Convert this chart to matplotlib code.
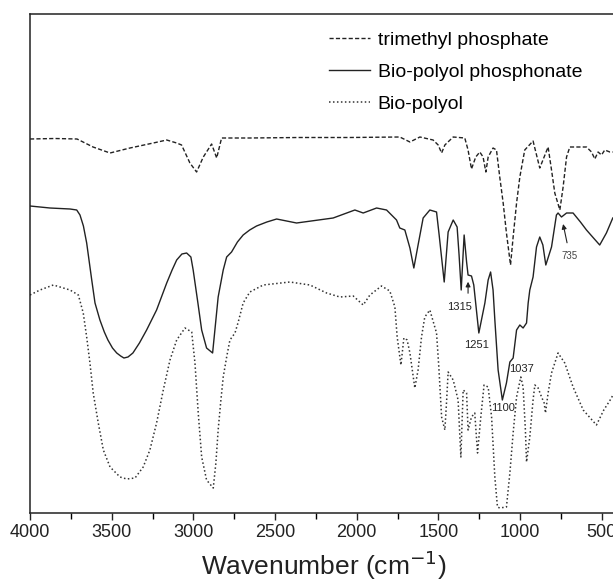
import matplotlib
matplotlib.use("Agg")
import matplotlib.pyplot as plt

plt.rcParams['font.family'] = ['Liberation Sans', 'DejaVu Sans']

# ---------- Data (arbitrary transmittance units) ----------
tmp_wn = [4000, 3847, 3712, 3614, 3510, 3388, 3245, 3163, 3102, 3072, 3021, 2980,
          2939, 2888, 2857, 2827, 2654, 2348, 2042, 1736, 1674, 1613, 1532, 1501,
          1480, 1460, 1409, 1338, 1318, 1297, 1271, 1246, 1226, 1209, 1195, 1165,
          1144, 1124, 1103, 1083, 1058, 1042, 1021, 1001, 971, 920, 879, 828,
          807, 787, 756, 736, 715, 695, 593, 562, 542, 522, 501, 481, 450, 432]
tmp_t = [374, 374.5, 374, 366, 360, 365, 370, 373, 370, 368, 350, 341,
         356, 369, 355, 375, 375, 375.5, 375.5, 376, 371, 376, 373, 368,
         360, 368, 376, 375, 363, 344, 356, 361, 356, 341, 356, 365,
         363, 336, 310, 280, 248, 276, 310, 336, 363, 372, 345, 366,
         343, 320, 303, 326, 356, 366, 366, 361, 354, 361, 358, 363, 361, 361]

phos_wn = [4000, 3878, 3755, 3714, 3694, 3673, 3653, 3622, 3602, 3572, 3545, 3523,
           3495, 3469, 3445, 3425, 3400, 3370, 3330, 3286, 3225, 3163, 3130, 3102,
           3070, 3041, 3015, 3001, 2972, 2949, 2919, 2882, 2868, 2848, 2817, 2796,
           2766, 2730, 2695, 2655, 2613, 2550, 2490, 2368, 2144, 2011, 1960, 1878,
           1817, 1756, 1736, 1705, 1674, 1650, 1624, 1593, 1552, 1511, 1495, 1464,
           1440, 1409, 1385, 1373, 1360, 1342, 1327, 1318, 1297, 1283, 1252, 1215,
           1195, 1180, 1165, 1154, 1134, 1108, 1083, 1062, 1042, 1021, 1001, 981,
           960, 950, 940, 920, 899, 879, 860, 842, 807, 777, 767, 746,
           715, 675, 630, 593, 550, 512, 471, 432]
phos_t = [307, 305, 304, 303, 298, 287, 270, 233, 210, 193, 181, 173,
          165, 160, 157, 155, 156, 160, 170, 183, 203, 230, 243, 253,
          259, 260, 256, 243, 210, 183, 165, 160, 183, 216, 243, 256,
          261, 271, 278, 283, 287, 291, 294, 290, 295, 303, 300, 305,
          303, 293, 285, 283, 265, 245, 268, 295, 303, 301, 278, 231,
          281, 293, 286, 258, 223, 278, 251, 238, 237, 228, 180, 210,
          233, 241, 223, 193, 143, 113, 130, 151, 155, 183, 188, 185,
          190, 210, 223, 236, 266, 276, 268, 248, 266, 298, 300, 296,
          300, 300, 291, 283, 275, 268, 280, 295]

polyol_wn = [4000, 3939, 3857, 3755, 3704, 3674, 3653, 3633, 3613, 3582, 3551, 3510,
             3449, 3408, 3357, 3307, 3266, 3225, 3184, 3143, 3102, 3051, 3010, 2990,
             2970, 2949, 2919, 2878, 2862, 2848, 2833, 2817, 2796, 2776, 2745, 2725,
             2695, 2654, 2572, 2409, 2286, 2184, 2103, 2021, 1960, 1919, 1848, 1797,
             1766, 1752, 1729, 1711, 1691, 1674, 1644, 1624, 1603, 1583, 1552, 1511,
             1497, 1480, 1460, 1449, 1440, 1409, 1379, 1362, 1348, 1327, 1318, 1297,
             1277, 1260, 1240, 1220, 1195, 1174, 1154, 1138, 1124, 1083, 1062, 1042,
             1021, 995, 981, 967, 960, 940, 920, 909, 889, 868, 852, 844,
             828, 807, 767, 726, 675, 613, 532, 487, 440, 432]
polyol_t = [218, 223, 228, 223, 218, 200, 176, 150, 120, 90, 63, 46,
            36, 34, 35, 46, 63, 90, 123, 153, 173, 185, 181, 150,
            100, 56, 33, 25, 50, 83, 110, 136, 156, 173, 180, 191,
            210, 221, 228, 231, 228, 220, 216, 217, 208, 218, 227, 222,
            206, 176, 148, 175, 173, 160, 125, 143, 176, 196, 203, 180,
            146, 96, 83, 113, 141, 133, 113, 56, 123, 120, 83, 96,
            100, 60, 96, 128, 126, 96, 36, 6, 5, 6, 40, 80,
            116, 136, 126, 83, 51, 76, 113, 128, 125, 116, 110, 100,
            120, 140, 160, 150, 126, 103, 88, 103, 115, 118]

labels = ["trimethyl phosphate", "Bio-polyol phosphonate", "Bio-polyol"]

# peak labels: (text, x, y)
peak_labels = [("1315", 1368, 206), ("1251", 1264, 168), ("1100", 1105, 105),
               ("1037", 991, 144)]

# ---------- Plot ----------
fig = plt.figure(figsize=(6.13, 5.82), dpi=100)
ax = fig.add_axes([30 / 613, 69 / 582, 588 / 613, 499 / 582])

ink = "#222222"
ax.plot(tmp_wn, tmp_t, color=ink, lw=1.0, linestyle=(0, (3, 1.6)), label=labels[0])
ax.plot(phos_wn, phos_t, color=ink, lw=1.0, label=labels[1])
ax.plot(polyol_wn, polyol_t, color="#333333", lw=1.1, linestyle=(0, (1, 1.6)), label=labels[2])

ax.set_xlim(4000, 400)
ax.set_ylim(0, 499)
ax.set_xticks([4000, 3500, 3000, 2500, 2000, 1500, 1000, 500])
ax.set_xticks(range(3750, 400, -500), minor=True)
ax.set_yticks([])
ax.tick_params(axis="x", which="major", direction="out", length=5, width=1,
               labelsize=13, pad=3, colors=ink)
ax.tick_params(axis="x", which="minor", direction="out", length=4, width=1)
for s in ax.spines.values():
    s.set_linewidth(1.1)
    s.set_color(ink)
ax.set_xlabel("Wavenumber (cm$^{-1}$)", fontsize=19, labelpad=5, color=ink)

for txt, x, y in peak_labels:
    ax.text(x, y, txt, fontsize=8, ha="center", va="center", color=ink)

ax.annotate("", xy=(1318, 234), xytext=(1318, 217),
            arrowprops=dict(arrowstyle="-|>", lw=0.8, color=ink, mutation_scale=7))
ax.annotate("735", xy=(736, 289), xytext=(695, 257), fontsize=7, color="#444444",
            ha="center", va="center",
            arrowprops=dict(arrowstyle="-|>", lw=0.8, color=ink, mutation_scale=7,
                            shrinkA=4, shrinkB=0))

ax.legend(loc="upper left", bbox_to_anchor=(329 / 613, 1 - 31 / 582),
          bbox_transform=fig.transFigure, frameon=False, fontsize=14,
          handlelength=2.1, handletextpad=0.4, labelspacing=0.75,
          borderpad=0, borderaxespad=0)

fig.savefig("out.png", dpi=100)
